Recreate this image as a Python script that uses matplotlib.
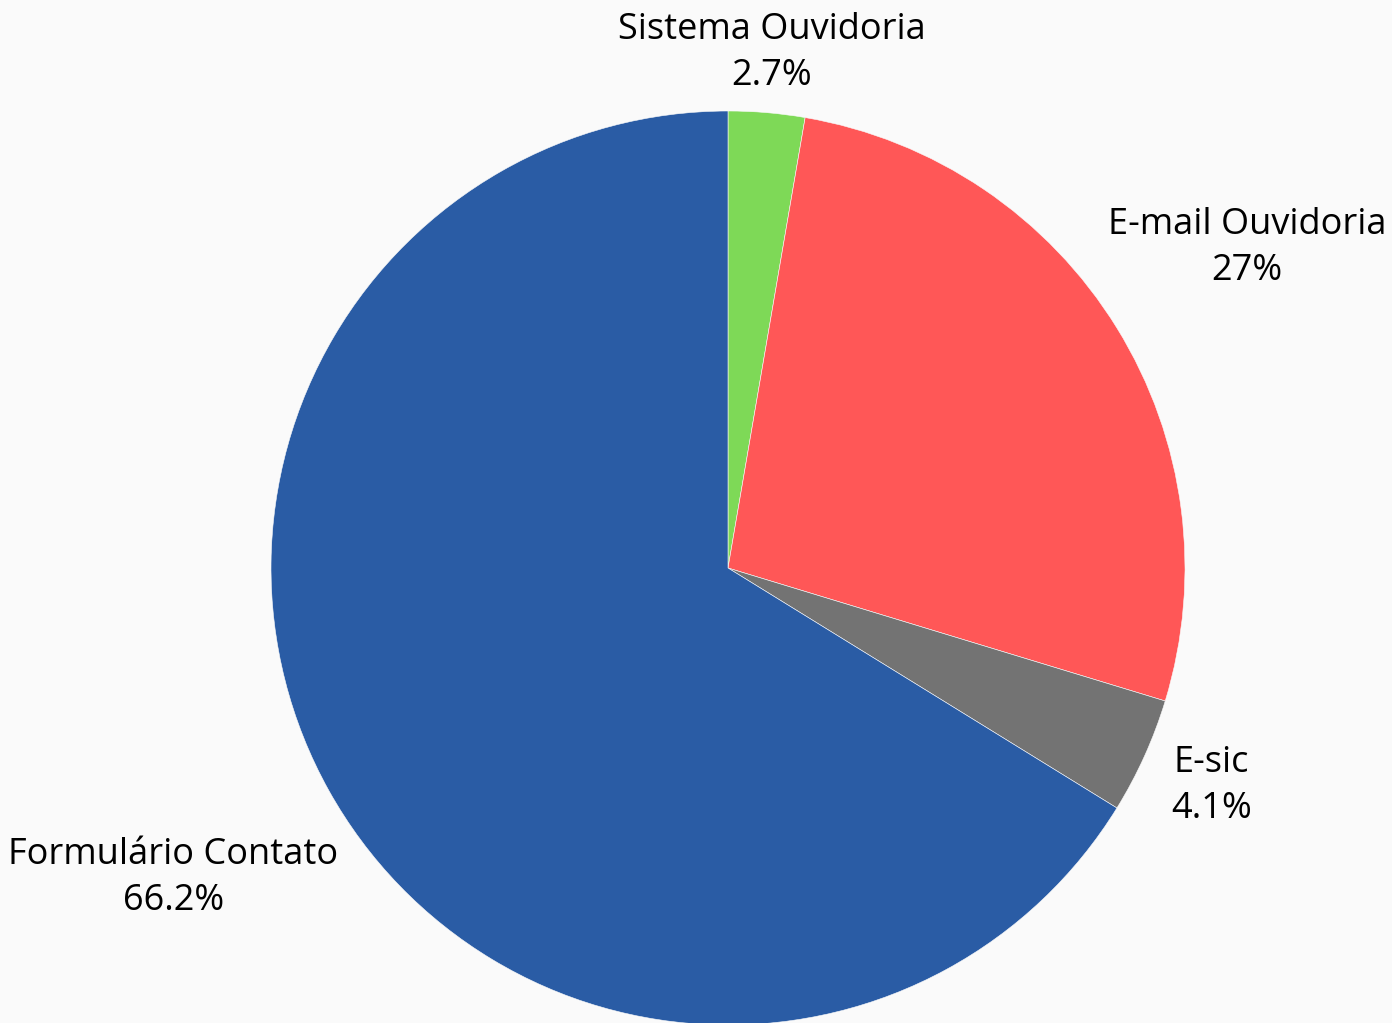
import numpy as np
import matplotlib.pyplot as plt

## canais de atendimento - percentuais
canais = ['Sistema Ouvidoria', 'E-mail Ouvidoria', 'E-sic', 'Formulário Contato']
valores = [2.7, 27, 4.1, 66.2]
rotulos = ['2.7%', '27%', '4.1%', '66.2%']
cores = ['#7ed957', '#ff5757', '#737373', '#2a5ca5']

## distancia de cada rotulo (em raios), so estilo
dist_rotulo = [1.13, 1.335, 1.16, 1.39]

plt.rcParams['font.family'] = ['Open Sans', 'DejaVu Sans']

fig = plt.figure(figsize=(13.92, 10.23), dpi=100, facecolor='#fafafa')
ax = fig.add_axes([0, 0, 1, 1])
ax.set_facecolor('#fafafa')

centro = (728, 455)
raio = 457
wedges, _ = ax.pie(valores, colors=cores, startangle=90, counterclock=False,
                   center=centro, radius=raio, frame=True,
                   wedgeprops=dict(edgecolor='#fafafa', linewidth=0.4))
ax.set_xlim(0, 1392)
ax.set_ylim(0, 1023)
ax.set_aspect('equal')
ax.axis('off')

for w, nome, txt, d in zip(wedges, canais, rotulos, dist_rotulo):
    ang = np.deg2rad((w.theta1 + w.theta2) / 2)
    x = centro[0] + d * raio * np.cos(ang)
    y = centro[1] + d * raio * np.sin(ang)
    ax.text(x, y, nome + '\n' + txt, ha='center', va='center',
            fontsize=26, color='#000000', linespacing=1.37)

fig.savefig('out.png', dpi=100, facecolor=fig.get_facecolor())
